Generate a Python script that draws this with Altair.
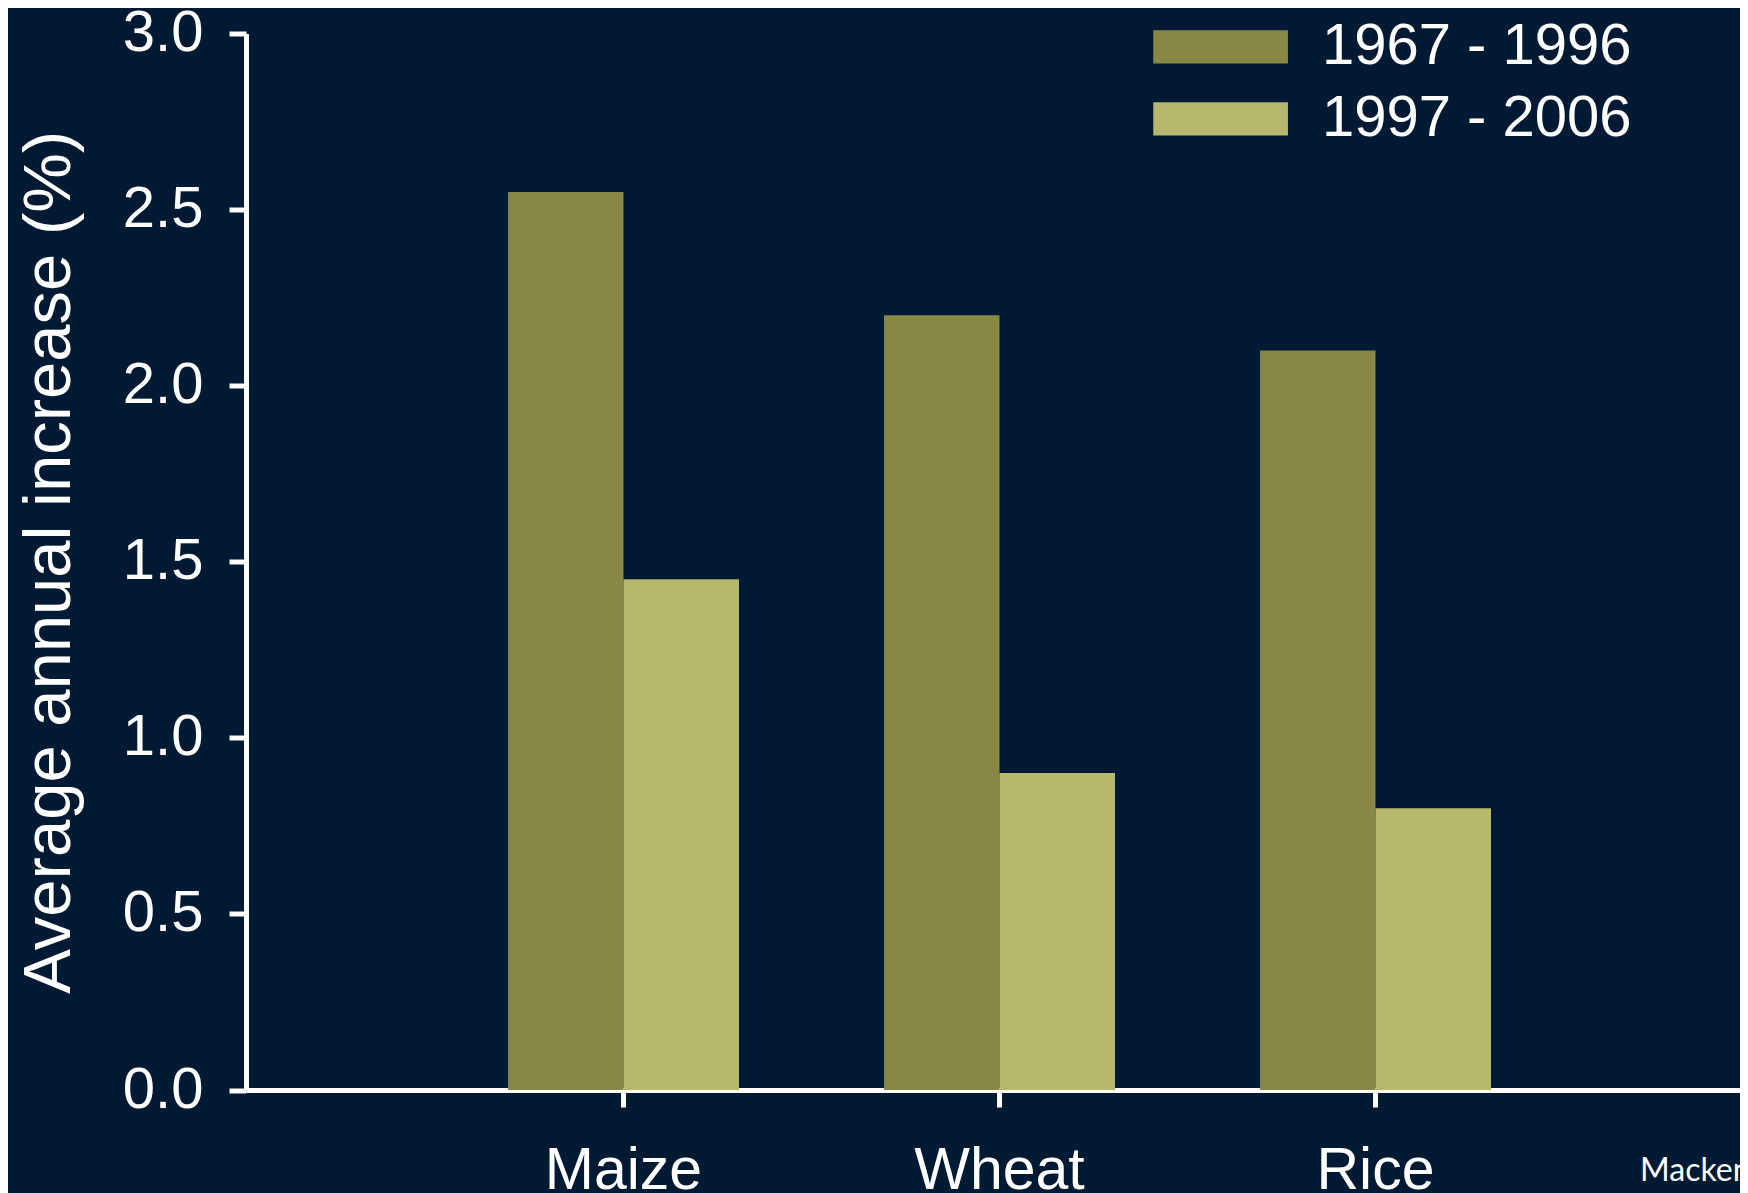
import altair as alt
import pandas as pd

crops = ["Maize", "Wheat", "Rice"]
periods = ["1967 - 1996", "1997 - 2006"]
early_values = [2.55, 2.2, 2.1]
late_values = [1.45, 0.9, 0.8]
y_ticks = [0.0, 0.5, 1.0, 1.5, 2.0, 2.5, 3.0]
source_note = ["Mackenzie et al."]

rows = []
for c, e, l in zip(crops, early_values, late_values):
    rows.append({"Crop": c, "Period": periods[0], "Value": e})
    rows.append({"Crop": c, "Period": periods[1], "Value": l})
df = pd.DataFrame(rows)

BG = "#001a33"
DARK = "#878845"
LIGHT = "#b6b86e"
FONT = "Liberation Sans"

W, H = 1494, 1056.5

bars = alt.Chart(df).mark_bar().encode(
    x=alt.X(
        "Crop:N",
        sort=crops,
        scale=alt.Scale(paddingInner=0.3856, paddingOuter=0.6795, align=0.5127),
        axis=alt.Axis(
            title=None,
            labelAngle=0,
            labelFontSize=59,
            labelColor="white",
            labelFont=FONT,
            labelPadding=34,
            tickSize=17,
            tickWidth=5,
            tickColor="white",
            domainColor="white",
            domainWidth=5,
            grid=False,
        ),
    ),
    xOffset=alt.XOffset("Period:N", sort=periods,
                        scale=alt.Scale(paddingInner=0, paddingOuter=0)),
    y=alt.Y(
        "Value:Q",
        scale=alt.Scale(domain=[0, 3], nice=False),
        axis=alt.Axis(
            title="Average annual increase (%)",
            values=y_ticks,
            format=".1f",
            labelFontSize=58,
            labelColor="white",
            labelFont=FONT,
            labelPadding=26,
            tickSize=17,
            tickWidth=5,
            tickColor="white",
            domainColor="white",
            domainWidth=5,
            grid=False,
            titleFontSize=67,
            titleFont=FONT,
            titleFontWeight="normal",
            titleColor="white",
            titleAngle=270,
            titleAlign="center",
            titleBaseline="alphabetic",
            titleX=-177,
            titleY=H / 2,
        ),
    ),
    color=alt.Color(
        "Period:N",
        sort=periods,
        scale=alt.Scale(domain=periods, range=[DARK, LIGHT]),
        legend=alt.Legend(
            title=None,
            orient="none",
            legendX=931.6,
            legendY=-29.6,
            symbolType="M-1.566,-0.387H1.566V0.387H-1.566Z",
            symbolSize=7396,
            symbolStrokeWidth=0,
            symbolOpacity=1,
            labelFontSize=58,
            labelFont=FONT,
            labelColor="white",
            labelOffset=58.3,
            labelLimit=600,
            rowPadding=0,
            padding=0,
        ),
    ),
)

note = alt.Chart(pd.DataFrame({"t": source_note})).mark_text(
    align="left", baseline="alphabetic", font="Lato", fontSize=32, color="white"
).encode(
    text="t:N",
    x=alt.value(1394),
    y=alt.value(1147.5),
)

chart = alt.layer(bars, note).properties(
    width=W,
    height=H,
    background=BG,
    padding={"left": 238, "top": 25.5, "right": 0, "bottom": 103},
    autosize=alt.AutoSizeParams(type="none"),
).configure_view(strokeWidth=0)

chart.save("out.html", embed_options={"renderer": "svg", "actions": False})
